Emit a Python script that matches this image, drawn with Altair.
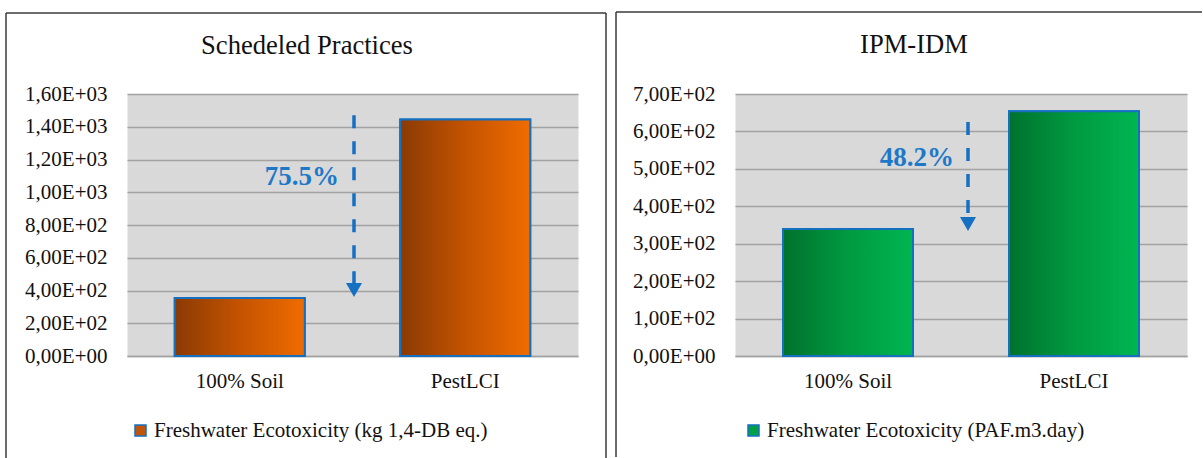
import altair as alt
import pandas as pd

categories = ["100% Soil", "PestLCI"]

# Scheduled practices (kg 1,4-DB eq.)
sched_title = "Schedeled Practices"
sched_values = [354, 1445]
sched_ticks = [0, 200, 400, 600, 800, 1000, 1200, 1400, 1600]
sched_arrow = [1470, 360]          # arrow start, arrow tip
sched_label = "75.5%"
sched_label_y = 1093
sched_series = "Freshwater Ecotoxicity (kg 1,4-DB eq.)"

# IPM-IDM (PAF.m3.day)
ipm_title = "IPM-IDM"
ipm_values = [339, 654]
ipm_ticks = [0, 100, 200, 300, 400, 500, 600, 700]
ipm_arrow = [625, 334]
ipm_label = "48.2%"
ipm_label_y = 529
ipm_series = "Freshwater Ecotoxicity (PAF.m3.day)"

FONT = "Liberation Serif"
LABEL_SIZE = 21
BLUE = "#1570C2"
TEXT_BLUE = "#1E78C8"
GRID = "#A2A2A2"
BORDER = "#3A3A3A"

SCI_LABEL = "replace(replace(format(datum.value, '.2e'), '.', ','), 'e+', 'E+0')"


def gradient(stops):
    return alt.Gradient(
        gradient="linear",
        stops=[alt.GradientStop(color=c, offset=o) for o, c in stops],
        x1=0, x2=1, y1=0, y2=0,
    )


def panel(title, values, ticks, arrow, label, label_y, series,
          shades, solid, width, arrow_dx, text_dx, legend_x, title_dx,
          frame, right_edge):
    bars = pd.DataFrame({"cat": categories, "value": values, "series": series})
    arrow_df = pd.DataFrame({"cat": ["PestLCI"], "start": [arrow[0]], "end": [arrow[1]]})
    label_df = pd.DataFrame({"cat": ["PestLCI"], "ly": [label_y], "txt": [label]})

    x_enc = alt.X(
        "cat:N", sort=categories,
        scale=alt.Scale(paddingInner=0, paddingOuter=0),
        axis=alt.Axis(title=None, labelAngle=0, labelFont=FONT, labelFontSize=LABEL_SIZE,
                      labelColor="#111", labelPadding=14, ticks=False,
                      domainColor=GRID, domainWidth=1.5, grid=False),
    )
    x_edge = alt.X("cat:N", sort=categories, bandPosition=0)
    y_axis = alt.Axis(title=None, values=ticks, labelExpr=SCI_LABEL, labelFont=FONT,
                      labelFontSize=LABEL_SIZE, labelColor="#111", labelPadding=20,
                      ticks=False, domain=False, gridColor=GRID, gridWidth=1.5)
    y_scale = alt.Scale(domain=[ticks[0], ticks[-1]], nice=False)

    base_bar = alt.Chart(bars).mark_bar(size=130, stroke=BLUE, strokeWidth=2).encode(
        x=x_enc,
        y=alt.Y("value:Q", scale=y_scale, axis=y_axis),
        fill=alt.Fill(
            "series:N", scale=alt.Scale(range=[solid]),
            legend=alt.Legend(title=None, orient="none", legendX=legend_x, legendY=326,
                              symbolType="square", symbolSize=121,
                              symbolStrokeColor=BLUE, symbolStrokeWidth=1.5,
                              labelFont=FONT, labelFontSize=LABEL_SIZE, labelColor="#111",
                              labelOffset=3, labelLimit=0),
        ),
    )
    grad_bar = alt.Chart(bars).mark_bar(
        size=130, fill=gradient(shades), stroke=BLUE, strokeWidth=2
    ).encode(x=x_enc, y=alt.Y("value:Q", scale=y_scale, axis=y_axis))

    shaft = alt.Chart(arrow_df).mark_rule(
        color=BLUE, strokeWidth=3.5, strokeDash=[13, 13], strokeCap="butt",
        xOffset=arrow_dx, x2Offset=arrow_dx, y2Offset=-10,
    ).encode(x=x_edge, y=alt.Y("start:Q", scale=y_scale, axis=y_axis), y2="end:Q")
    head = alt.Chart(arrow_df).mark_point(
        shape="triangle-down", filled=True, size=256, color=BLUE, opacity=1,
        xOffset=arrow_dx, yOffset=-7,
    ).encode(x=x_edge, y=alt.Y("end:Q", scale=y_scale, axis=y_axis))
    text = alt.Chart(label_df).mark_text(
        align="right", baseline="middle", dx=text_dx, font=FONT, fontSize=27,
        fontWeight="bold", color=TEXT_BLUE,
    ).encode(x=x_edge, y=alt.Y("ly:Q", scale=y_scale, axis=y_axis), text="txt:N")

    # panel frame lines
    left, top, right, bottom = frame
    frame_layers = [
        alt.Chart(bars).mark_rule(color=BORDER, strokeWidth=1).encode(
            x=alt.value(left), y=alt.value(top), y2=alt.value(bottom)),
        alt.Chart(bars).mark_rule(color=BORDER, strokeWidth=1).encode(
            x=alt.value(left), x2=alt.value(right), y=alt.value(top)),
    ]
    if right_edge:
        frame_layers.append(
            alt.Chart(bars).mark_rule(color=BORDER, strokeWidth=1).encode(
                x=alt.value(right), y=alt.value(top), y2=alt.value(bottom)))

    return alt.layer(base_bar, grad_bar, shaft, head, text, *frame_layers).properties(
        width=width, height=262,
        title=alt.TitleParams(text=title, font=FONT, fontSize=26.6, fontWeight="normal",
                              color="#111", anchor="middle", frame="bounds",
                              offset=-47, dx=title_dx),
    )


left_panel = panel(sched_title, sched_values, sched_ticks, sched_arrow, sched_label,
                   sched_label_y, sched_series,
                   [(0, "#8A3A05"), (0.5, "#C45300"), (1, "#F06C00")], "#C0560C",
                   451, 1.5, -13.5, 3, 1, (-121, -81, 479, 364), True)
right_panel = panel(ipm_title, ipm_values, ipm_ticks, ipm_arrow, ipm_label,
                    ipm_label_y, ipm_series,
                    [(0, "#00722D"), (0.5, "#009A41"), (1, "#00B651")], "#00A046",
                    452, 7, -7, 8, 5, (-119, -82, 467, 363), False)

chart = alt.hconcat(left_panel, right_panel, spacing=8).resolve_scale(
    x="independent", y="independent", fill="independent"
).resolve_legend(fill="independent").properties(
    padding={"left": 5, "top": 11, "right": 0, "bottom": 0},
    background="white",
).configure(font=FONT).configure_axis(
    labelFont=FONT
).configure_legend(
    labelFont=FONT
).configure_text(
    font=FONT
).configure_view(fill="#D9D9D9", stroke="transparent")

chart.save("out.html", embed_options={"renderer": "svg", "actions": False})
